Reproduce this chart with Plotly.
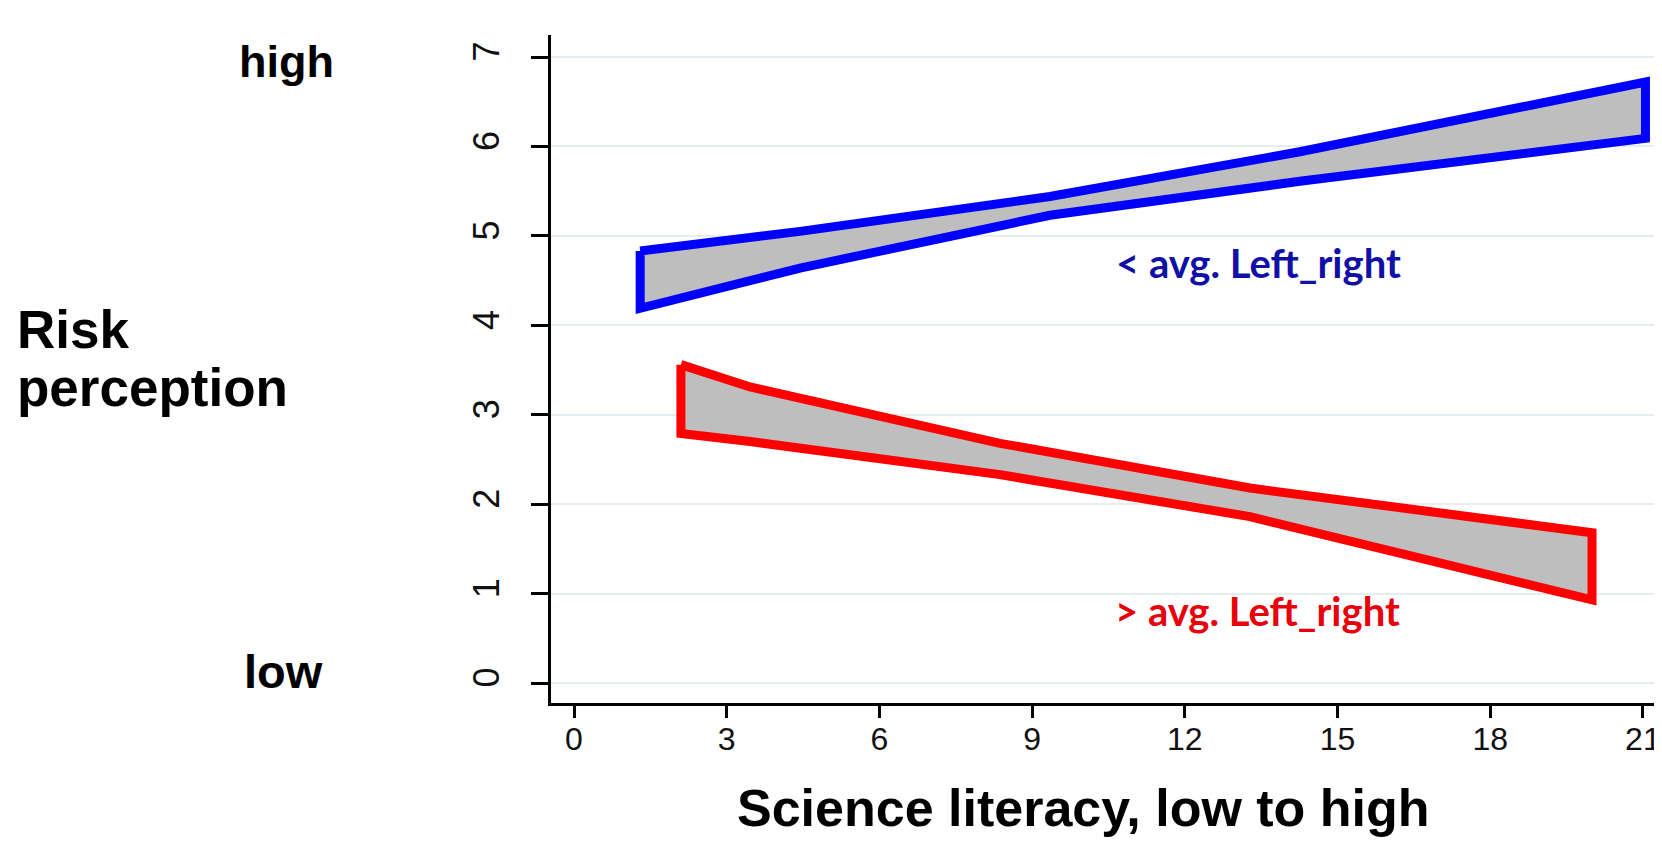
import plotly.graph_objects as go

# ---- data ----
blue_x = [1.3, 4.44, 9.35, 14.26, 21.05]
blue_upper = [4.83, 5.05, 5.44, 5.94, 6.72]
blue_lower = [4.19, 4.64, 5.23, 5.61, 6.09]

red_x = [2.1, 3.46, 8.37, 13.28, 20.0]
red_upper = [3.56, 3.31, 2.68, 2.18, 1.68]
red_lower = [2.79, 2.70, 2.33, 1.86, 0.93]

x_ticks = [0, 3, 6, 9, 12, 15, 18, 21]
y_ticks = [0, 1, 2, 3, 4, 5, 6, 7]

# page body has an 8px margin: the figure is sized/placed so that the
# plot area lands at the same screen pixels as in the reference
OFF = 8
W, H = 1662 - OFF, 848 - 2 * OFF
SCR_L, SCR_T, SCR_B = 551, 35, 703          # plot area edges on screen
L, T = SCR_L - OFF, SCR_T - OFF
B = H - (SCR_B - OFF)
R = 0
PW, PH = W - L - R, H - T - B

ARIAL = "Liberation Sans, Arial, sans-serif"
CAL = "Lato, Carlito, Calibri, sans-serif"


def px2paper_x(px):
    return (px - SCR_L) / PW


def px2paper_y(py):
    return (SCR_B - py) / PH


def band(xs, up, lo):
    bx = list(xs) + list(xs[::-1]) + [xs[0]]
    by = list(up) + list(lo[::-1]) + [up[0]]
    return bx, by


fig = go.Figure()
for xs, up, lo, col in [(blue_x, blue_upper, blue_lower, "#0000ff"),
                        (red_x, red_upper, red_lower, "#ff0000")]:
    bx, by = band(xs, up, lo)
    fig.add_trace(go.Scatter(x=bx, y=by, mode="lines", fill="toself",
                             fillcolor="#bebebe",
                             line=dict(color=col, width=9),
                             hoverinfo="skip", showlegend=False))

ann = []
ann.append(dict(text="< avg. Left_right", x=13.45, y=4.70, xref="x", yref="y",
                showarrow=False, font=dict(family=CAL, size=40, color="#1010a6", weight="bold")))
ann.append(dict(text="> avg. Left_right", x=13.43, y=0.80, xref="x", yref="y",
                showarrow=False, font=dict(family=CAL, size=40, color="#e8000a", weight="bold")))

ann.append(dict(text="<b>high</b>", x=px2paper_x(286), y=px2paper_y(61), xref="paper", yref="paper",
                xanchor="center", yanchor="middle", showarrow=False,
                font=dict(family=ARIAL, size=45, color="black")))
ann.append(dict(text="<b>low</b>", x=px2paper_x(283), y=px2paper_y(671), xref="paper", yref="paper",
                xanchor="center", yanchor="middle", showarrow=False,
                font=dict(family=ARIAL, size=47, color="black")))
ann.append(dict(text="<b>Risk</b>", x=px2paper_x(15), y=px2paper_y(329), xref="paper", yref="paper",
                xanchor="left", yanchor="middle", showarrow=False,
                font=dict(family=ARIAL, size=53, color="black")))
ann.append(dict(text="<b>perception</b>", x=px2paper_x(15), y=px2paper_y(388), xref="paper", yref="paper",
                xanchor="left", yanchor="middle", showarrow=False,
                font=dict(family=ARIAL, size=53, color="black")))
ann.append(dict(text="<b>Science literacy, low to high</b>", x=px2paper_x(1083), y=px2paper_y(808),
                xref="paper", yref="paper", xanchor="center", yanchor="middle", showarrow=False,
                font=dict(family=ARIAL, size=52, color="black")))

fig.update_layout(
    width=W, height=H,
    margin=dict(l=L, r=R, t=T, b=B, pad=0),
    paper_bgcolor="white", plot_bgcolor="white",
    annotations=ann,
    showlegend=False,
)
fig.update_xaxes(range=[-0.452, 21.375], tickvals=x_ticks, ticktext=[str(v) for v in x_ticks],
                 showgrid=False, zeroline=False, showline=True, linecolor="black", linewidth=2.5,
                 ticks="outside", ticklen=12, tickwidth=2.5, tickcolor="black",
                 ticklabeloverflow="allow",
                 tickfont=dict(family=ARIAL, size=32, color="#111"), ticklabelstandoff=-6)
fig.update_yaxes(range=[-0.2236, 7.246], tickvals=y_ticks, ticktext=[str(v) for v in y_ticks],
                 showgrid=True, gridcolor="#e6edf0", gridwidth=2, zeroline=False,
                 showline=True, linecolor="black", linewidth=2.5,
                 ticks="outside", ticklen=17, tickwidth=2.5, tickcolor="black", tickangle=-90,
                 tickfont=dict(family=ARIAL, size=36, color="#111"), ticklabelstandoff=18)

fig.write_html("out.html")
